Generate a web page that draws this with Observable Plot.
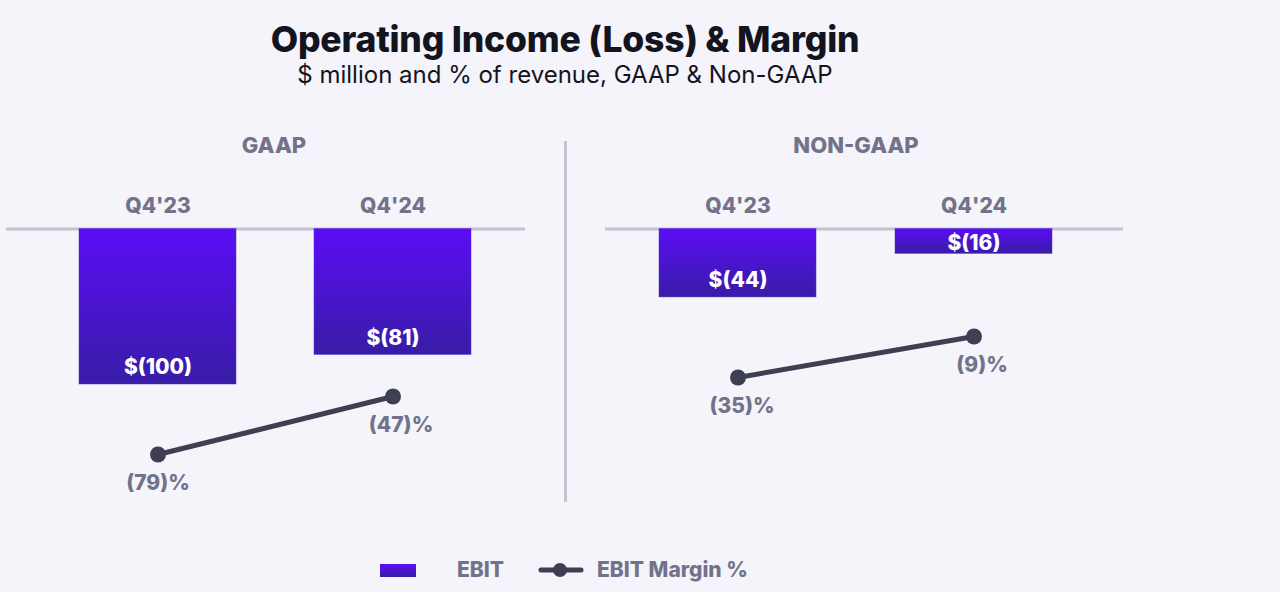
<!DOCTYPE html>
<html>
<head>
<meta charset="utf-8">
<script src="https://cdn.jsdelivr.net/npm/d3@7"></script>
<script src="https://cdn.jsdelivr.net/npm/@observablehq/plot@0.6"></script>
<style>
  html, body { margin: 0; padding: 0; background: #f4f4fa; }
  #root { position: relative; width: 1280px; height: 592px; background: #f4f4fa; overflow: hidden; font-family: Inter, "Noto Sans", sans-serif; }
  .abs { position: absolute; white-space: nowrap; }
  .title { left: 0; width: 1130px; text-align: center; top: 22px; font-size: 35.5px; line-height: 35px; font-weight: 800; color: #14141f; letter-spacing: -0.2px; }
  .subtitle { left: 0; width: 1130px; text-align: center; top: 63px; font-size: 24px; line-height: 24px; font-weight: 400; color: #14141f; }
  .section { font-size: 22px; line-height: 22px; font-weight: 800; color: #72738a; text-align: center; width: 300px; }
  .divider { left: 564px; top: 141px; width: 3px; height: 361px; background: #c4c4cf; }
  svg.plotlayer { position: absolute; overflow: visible; }
</style>
</head>
<body>
<div id="root">
  <div class="abs title">Operating Income (Loss) &amp; Margin</div>
  <div class="abs subtitle">$ million and % of revenue, GAAP &amp; Non-GAAP</div>
  <div class="abs divider"></div>
</div>
<script>
// ---- data ----
const periods = ["Q4'23", "Q4'24"];
const panelNames = ["GAAP", "NON-GAAP"];
const gaapEbit = [-100, -81];
const nonGaapEbit = [-44, -16];
const gaapMargin = [-79, -47];
const nonGaapMargin = [-35, -9];
const legendLabels = ["EBIT", "EBIT Margin %"];

const root = document.getElementById("root");
const GRAY = "#72738a";
const LINE = "#3e3f52";
const FONT = "Inter, 'Noto Sans', sans-serif";

const fmtMoney = v => `$(${Math.abs(v)})`;
const fmtPct = v => `(${Math.abs(v)})%`;

function addGradient(svg, id) {
  const ns = "http://www.w3.org/2000/svg";
  const defs = document.createElementNS(ns, "defs");
  const g = document.createElementNS(ns, "linearGradient");
  g.setAttribute("id", id);
  g.setAttribute("x1", "0"); g.setAttribute("y1", "0");
  g.setAttribute("x2", "0"); g.setAttribute("y2", "1");
  [["0%", "#5b0df6"], ["100%", "#381ca6"]].forEach(([o, c]) => {
    const s = document.createElementNS(ns, "stop");
    s.setAttribute("offset", o); s.setAttribute("stop-color", c);
    g.appendChild(s);
  });
  defs.appendChild(g);
  svg.insertBefore(defs, svg.firstChild);
}

function place(el, left, top) {
  el.classList.add("plotlayer");
  el.style.left = left + "px";
  el.style.top = top + "px";
  el.style.background = "transparent";
  root.appendChild(el);
}

// panel config: left edge, width, band range inside panel, margin-line y range
const panels = [
  { name: panelNames[0], ebit: gaapEbit, margin: gaapMargin, left: 6, width: 519, band: [72, 465], lineRange: [274, 216], labelCenter: 274, pctDx: [0, 8] },
  { name: panelNames[1], ebit: nonGaapEbit, margin: nonGaapMargin, left: 605, width: 518, band: [54, 448], lineRange: [197, 156], labelCenter: 856, pctDx: [4, 8] }
];

const TOP = 180, H = 330;

panels.forEach((p, i) => {
  const data = periods.map((period, j) => ({ period, ebit: p.ebit[j], margin: p.margin[j] }));
  const xScale = { type: "band", domain: periods, range: p.band, paddingInner: 0.333, paddingOuter: 0 };

  // section heading
  const sec = document.createElement("div");
  sec.className = "abs section";
  sec.textContent = p.name;
  sec.style.left = (p.labelCenter - 150) + "px";
  sec.style.top = "134px";
  root.appendChild(sec);

  const gid = "barGrad" + i;
  const bars = Plot.plot({
    width: p.width, height: H,
    marginLeft: 0, marginRight: 0, marginTop: 0, marginBottom: 0,
    style: { background: "transparent", fontFamily: FONT, overflow: "visible" },
    x: { ...xScale, axis: null },
    y: { domain: [-100, 0], range: [204, 48.5], axis: null },
    marks: [
      Plot.ruleY([0], { stroke: "#c3c3cf", strokeWidth: 3 }),
      Plot.barY(data, { x: "period", y: "ebit", fill: `url(#${gid})`, stroke: "#5530d8", strokeWidth: 0.8, strokeOpacity: 0.6 }),
      Plot.text(data, { x: "period", y: d => Math.min(d.ebit + 6.5, d.ebit * 0.84), text: d => fmtMoney(d.ebit),
        fill: "white", fontWeight: 800, fontSize: 21, lineAnchor: "bottom" }),
      Plot.text(periods, { x: d => d, frameAnchor: "top", dy: 32, lineAnchor: "bottom", text: d => d,
        fill: GRAY, fontWeight: 800, fontSize: 21 })
    ]
  });
  addGradient(bars, gid);
  place(bars, p.left, TOP);

  const lines = Plot.plot({
    width: p.width, height: H,
    marginLeft: 0, marginRight: 0, marginTop: 0, marginBottom: 0,
    style: { background: "transparent", fontFamily: FONT, overflow: "visible" },
    x: { ...xScale, axis: null },
    y: { domain: d3.extent(p.margin), range: p.lineRange, axis: null },
    marks: [
      Plot.line(data, { x: "period", y: "margin", stroke: LINE, strokeWidth: 5 }),
      Plot.dot(data, { x: "period", y: "margin", r: 8, fill: LINE }),
      Plot.text(data, { x: "period", y: "margin", text: d => fmtPct(d.margin), dy: 35,
        dx: 0, lineAnchor: "bottom", fill: GRAY, fontWeight: 800, fontSize: 21,
        transform: null })
    ]
  });
  // shift percentage labels slightly as in the reference layout
  lines.querySelectorAll('g[aria-label="text"] text').forEach((t, j) => {
    t.setAttribute("dx", p.pctDx[j]);
  });
  place(lines, p.left, TOP);
});

// ---- legend ----
const legend = document.createElementNS("http://www.w3.org/2000/svg", "svg");
legend.setAttribute("width", "1280"); legend.setAttribute("height", "40");
legend.style.position = "absolute"; legend.style.left = "0px"; legend.style.top = "552px";
legend.innerHTML = `
  <defs><linearGradient id="legGrad" x1="0" y1="0" x2="0" y2="1">
    <stop offset="0%" stop-color="#5b0df6"/><stop offset="100%" stop-color="#381ca6"/></linearGradient></defs>
  <rect x="380" y="12" width="36" height="13" fill="url(#legGrad)"/>
  <text x="457" y="25" font-family="${FONT}" font-size="21" font-weight="800" fill="${GRAY}">${legendLabels[0]}</text>
  <line x1="541" y1="18" x2="581" y2="18" stroke="${LINE}" stroke-width="5" stroke-linecap="round"/>
  <circle cx="560" cy="18" r="7" fill="${LINE}"/>
  <text x="597" y="25" font-family="${FONT}" font-size="21" font-weight="800" fill="${GRAY}">${legendLabels[1]}</text>`;
root.appendChild(legend);
</script>
</body>
</html>
